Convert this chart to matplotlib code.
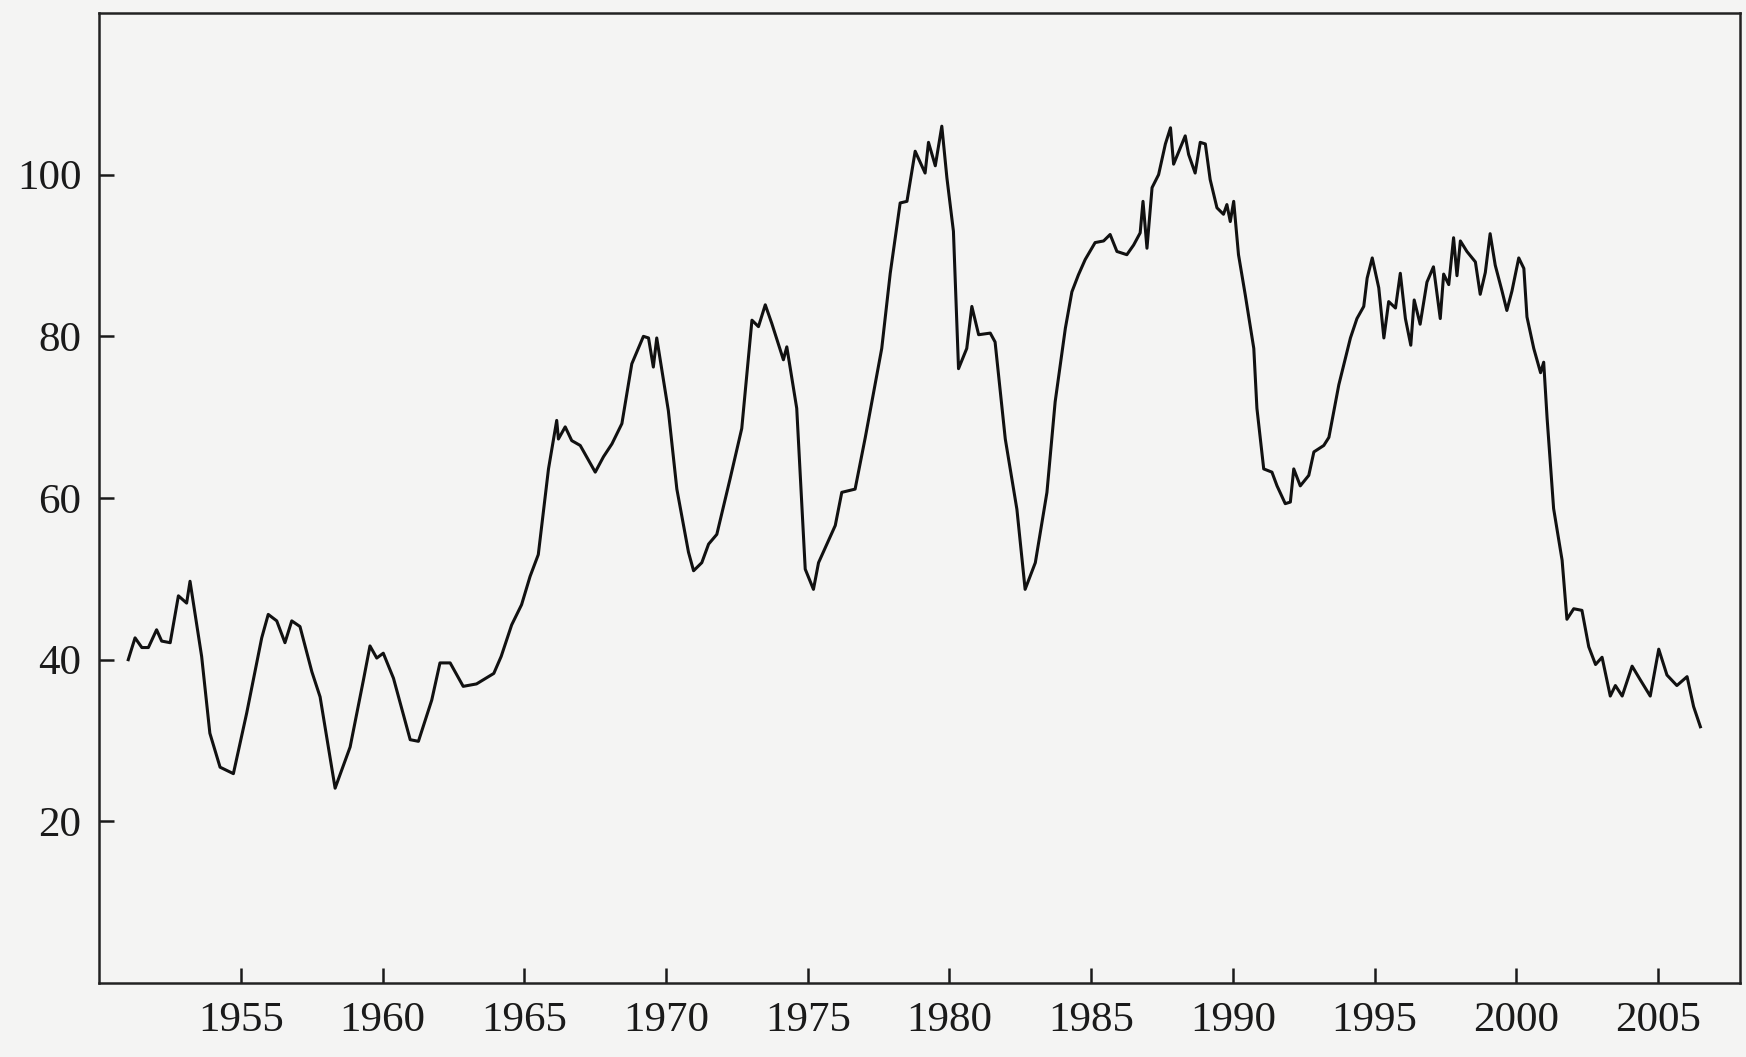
import numpy as np
import matplotlib
matplotlib.use("Agg")
import matplotlib.pyplot as plt

# values (year, index)
year_1950s = [1951.02, 1951.26, 1951.5, 1951.73, 1952.02, 1952.2, 1952.5, 1952.79,
              1953.08, 1953.2, 1953.61, 1953.9, 1954.26, 1954.73, 1955.2, 1955.73,
              1955.96, 1956.26, 1956.55, 1956.79, 1957.08, 1957.5, 1957.79, 1958.32,
              1958.85, 1959.32, 1959.55, 1959.79]
value_1950s = [40.0, 42.7, 41.5, 41.5, 43.7, 42.3, 42.1, 47.9,
               47.0, 49.7, 40.4, 30.9, 26.7, 25.9, 33.4, 42.7,
               45.6, 44.8, 42.1, 44.8, 44.1, 38.5, 35.4, 24.1,
               29.2, 37.5, 41.7, 40.2]

year_1960s = [1960.02, 1960.38, 1960.97, 1961.26, 1961.73, 1962.02, 1962.38, 1962.84,
              1963.31, 1963.92, 1964.18, 1964.55, 1964.9, 1965.2, 1965.49, 1965.85,
              1966.14, 1966.2, 1966.44, 1966.67, 1966.97, 1967.5, 1967.79, 1968.09,
              1968.44, 1968.79, 1969.2, 1969.38, 1969.55, 1969.67]
value_1960s = [40.8, 37.7, 30.1, 29.9, 35.0, 39.6, 39.6, 36.7,
               37.0, 38.3, 40.4, 44.3, 46.8, 50.3, 53.0, 63.6,
               69.6, 67.3, 68.8, 67.1, 66.5, 63.2, 65.1, 66.7,
               69.2, 76.6, 80.0, 79.8, 76.2, 79.8]

year_1970s = [1970.08, 1970.38, 1970.79, 1970.97, 1971.26, 1971.5, 1971.79, 1972.26,
              1972.67, 1973.03, 1973.26, 1973.5, 1973.73, 1974.14, 1974.26, 1974.61,
              1974.91, 1975.2, 1975.38, 1975.97, 1976.2, 1976.67, 1977.03, 1977.61,
              1977.91, 1978.26, 1978.5, 1978.79, 1979.14, 1979.26, 1979.5, 1979.73,
              1979.91]
value_1970s = [70.8, 61.1, 53.3, 51.0, 52.0, 54.3, 55.5, 62.4,
               68.6, 82.0, 81.2, 83.9, 81.6, 77.1, 78.7, 71.1,
               51.2, 48.7, 52.0, 56.6, 60.7, 61.1, 67.5, 78.5,
               87.8, 96.5, 96.7, 102.9, 100.2, 104.0, 101.1, 106.0,
               99.6]

year_1980s = [1980.14, 1980.32, 1980.61, 1980.79, 1981.03, 1981.44, 1981.61, 1981.97,
              1982.38, 1982.67, 1983.03, 1983.44, 1983.73, 1984.09, 1984.32, 1984.55,
              1984.79, 1985.14, 1985.44, 1985.67, 1985.91, 1986.26, 1986.5, 1986.73,
              1986.83, 1986.97, 1987.15, 1987.38, 1987.62, 1987.8, 1987.91, 1988.32,
              1988.44, 1988.67, 1988.85, 1989.03, 1989.2, 1989.44, 1989.67, 1989.79,
              1989.91]
value_1980s = [93.0, 76.0, 78.5, 83.7, 80.2, 80.4, 79.3, 67.3,
               58.6, 48.7, 52.0, 60.7, 71.9, 81.0, 85.5, 87.6,
               89.5, 91.6, 91.8, 92.6, 90.5, 90.1, 91.3, 92.8,
               96.7, 90.9, 98.4, 100.0, 103.8, 105.8, 101.3, 104.8,
               102.5, 100.2, 104.0, 103.8, 99.4, 95.9, 95.1, 96.3,
               94.2]

year_1990s = [1990.03, 1990.2, 1990.44, 1990.74, 1990.85, 1991.09, 1991.38, 1991.56,
              1991.85, 1992.03, 1992.15, 1992.38, 1992.68, 1992.86, 1993.21, 1993.39,
              1993.74, 1994.15, 1994.38, 1994.62, 1994.74, 1994.92, 1995.15, 1995.33,
              1995.5, 1995.74, 1995.91, 1996.09, 1996.28, 1996.4, 1996.61, 1996.85,
              1997.08, 1997.32, 1997.44, 1997.62, 1997.79, 1997.91, 1998.03, 1998.26,
              1998.56, 1998.73, 1998.91, 1999.08, 1999.26, 1999.5, 1999.67, 1999.85]
value_1990s = [96.7, 90.1, 85.1, 78.5, 71.1, 63.6, 63.2, 61.5,
               59.3, 59.5, 63.6, 61.5, 62.8, 65.7, 66.5, 67.5,
               74.0, 79.8, 82.2, 83.7, 87.2, 89.7, 86.0, 79.8,
               84.3, 83.5, 87.8, 82.2, 78.9, 84.5, 81.5, 86.7,
               88.6, 82.2, 87.7, 86.4, 92.2, 87.5, 91.8, 90.5,
               89.2, 85.2, 87.9, 92.7, 88.8, 85.6, 83.2, 85.6]

year_2000s = [2000.09, 2000.27, 2000.38, 2000.62, 2000.86, 2000.97, 2001.09, 2001.32,
              2001.62, 2001.79, 2002.03, 2002.32, 2002.56, 2002.8, 2003.03, 2003.32,
              2003.5, 2003.74, 2004.09, 2004.38, 2004.73, 2005.03, 2005.32, 2005.67,
              2006.03, 2006.26, 2006.5]
value_2000s = [89.7, 88.4, 82.4, 78.5, 75.5, 76.8, 69.9, 58.7,
               52.3, 45.0, 46.3, 46.1, 41.6, 39.4, 40.3, 35.5,
               36.8, 35.5, 39.2, 37.5, 35.5, 41.3, 38.1, 36.8,
               37.9, 34.2, 31.7]

x_ticks = [1955, 1960, 1965, 1970, 1975, 1980, 1985, 1990, 1995, 2000, 2005]
y_ticks = [20, 40, 60, 80, 100]

years = np.concatenate([year_1950s, year_1960s, year_1970s, year_1980s, year_1990s, year_2000s])
values = np.concatenate([value_1950s, value_1960s, value_1970s, value_1980s, value_1990s, value_2000s])

plt.rcParams['font.family'] = ['Liberation Serif', 'DejaVu Serif']

bg = '#f4f4f3'
fig = plt.figure(figsize=(17.46, 10.57), dpi=100, facecolor=bg)
ax = fig.add_axes([0.0569, 0.070, 0.9397, 0.9177])
ax.set_facecolor(bg)

ax.plot(years, values, color='#111111', linewidth=2.2, solid_joinstyle='round')

ax.set_xlim(1950.0, 2007.9)
ax.set_ylim(0, 120)
ax.set_xticks(x_ticks)
ax.set_yticks(y_ticks)

for s in ax.spines.values():
    s.set_linewidth(1.8)
    s.set_color('#222222')

ax.tick_params(direction='in', length=11, width=1.8, labelsize=31,
               colors='#1a1a1a', pad=13)

fig.savefig('out.png', dpi=100, facecolor=bg)
